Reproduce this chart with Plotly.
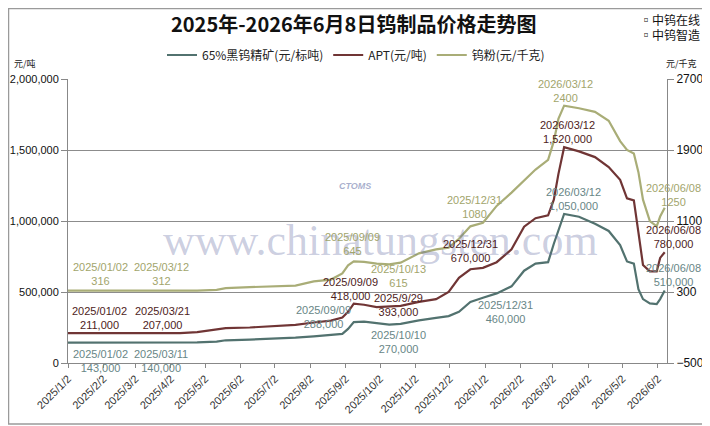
import plotly.graph_objects as go

# price history
dates = [
    "2025-01-02", "2025-02-10", "2025-02-20", "2025-03-12", "2025-03-21",
    "2025-04-10", "2025-04-25", "2025-05-12", "2025-05-20", "2025-06-10",
    "2025-07-01", "2025-07-20", "2025-08-05", "2025-08-20", "2025-08-30",
    "2025-09-04", "2025-09-09", "2025-09-18", "2025-09-29", "2025-10-10",
    "2025-10-20", "2025-11-05", "2025-11-20", "2025-12-01", "2025-12-10",
    "2025-12-20", "2025-12-31", "2026-01-12", "2026-01-25", "2026-02-05",
    "2026-02-15", "2026-02-26", "2026-03-03", "2026-03-07", "2026-03-12",
    "2026-03-25", "2026-04-08", "2026-04-20", "2026-04-30", "2026-05-06",
    "2026-05-12", "2026-05-16", "2026-05-20", "2026-05-26", "2026-06-01",
    "2026-06-04", "2026-06-08",
]
concentrate = [  # 65%黑钨精矿, 元/标吨
    143000, 143000, 140000, 140000, 140000, 142000, 145000, 150000, 160000, 165000,
    170000, 178000, 188000, 198000, 205000, 240000, 288000, 292000, 282000, 270000,
    275000, 300000, 318000, 330000, 360000, 430000, 460000, 490000, 540000, 650000,
    700000, 710000, 840000, 930000, 1050000, 1030000, 980000, 930000, 830000, 715000,
    700000, 520000, 450000, 420000, 415000, 450000, 510000,
]
apt = [  # APT, 元/吨
    211000, 211000, 211000, 207000, 207000, 210000, 218000, 235000, 246000, 250000,
    258000, 268000, 285000, 298000, 320000, 360000, 418000, 410000, 393000, 395000,
    402000, 430000, 450000, 500000, 600000, 660000, 670000, 710000, 800000, 960000,
    1020000, 1040000, 1150000, 1330000, 1520000, 1490000, 1450000, 1380000, 1290000, 1160000,
    1145000, 920000, 690000, 645000, 645000, 740000, 780000,
]
powder = [  # 钨粉, 元/千克
    316, 316, 314, 312, 312, 314, 316, 325, 343, 355,
    362, 372, 420, 440, 510, 600, 645, 640, 620, 612,
    630, 735, 780, 800, 900, 1040, 1080, 1270, 1420, 1560,
    1680, 1790, 2000, 2250, 2400, 2370, 2330, 2230, 2000, 1900,
    1860, 1650, 1340, 1100, 1040, 1150, 1250,
]

month_ticks = ["2025-%02d-02" % m for m in range(1, 13)] + ["2026-%02d-02" % m for m in range(1, 7)]
month_text = ["2025/%d/2" % m for m in range(1, 13)] + ["2026/%d/2" % m for m in range(1, 7)]

left_ticks = [0, 500000, 1000000, 1500000, 2000000]
right_ticks = [-500, 300, 1100, 1900, 2700]

c_col, a_col, p_col = "#52726f", "#703535", "#a9ad77"
c_txt, a_txt, p_txt = "#688686", "#4e1c1c", "#a2a56c"

# point labels: text, centre pixel (x, y) in the 710x426 picture, colour
labels = [
    ("2025/01/02<br>316", 100, 274, p_txt),
    ("2025/03/12<br>312", 161, 274, p_txt),
    ("2025/09/09<br>645", 352, 244, p_txt),
    ("2025/10/13<br>615", 398, 276, p_txt),
    ("2025/12/31<br>1080", 475, 207, p_txt),
    ("2026/03/12<br>2400", 565, 91, p_txt),
    ("2026/06/08<br>1250", 673, 195, p_txt),
    ("2025/01/02<br>211,000", 99, 318, a_txt),
    ("2025/03/21<br>207,000", 162, 318, a_txt),
    ("2025/09/09<br>418,000", 350, 289, a_txt),
    ("2025/9/29<br>393,000", 398, 305, a_txt),
    ("2025/12/31<br>670,000", 470, 251, a_txt),
    ("2026/03/12<br>1,520,000", 567, 132, a_txt),
    ("2026/06/08<br>780,000", 673, 237, a_txt),
    ("2025/01/02<br>143,000", 100, 361, c_txt),
    ("2025/03/11<br>140,000", 161, 361, c_txt),
    ("2025/09/09<br>288,000", 323, 317, c_txt),
    ("2025/10/10<br>270,000", 398, 342, c_txt),
    ("2025/12/31<br>460,000", 505, 312, c_txt),
    ("2026/03/12<br>1,050,000", 573, 199, c_txt),
    ("2026/06/08<br>510,000", 673, 275, c_txt),
]

# the page puts the figure 8px in from the top-left corner, so build it 8px smaller
OFF = 8
W, H = 710 - OFF, 426 - OFF
L, R, T, B = 68 - OFF, 43, 79 - OFF, 63
pw, ph = W - L - R, H - T - B


def px(x, y):
    # reference picture pixel -> paper coordinates
    return (x - OFF - L) / pw, (H - B - (y - OFF)) / ph


font = "Liberation Sans, Noto Sans CJK SC, sans-serif"
cjk = "Noto Sans CJK SC, sans-serif"

fig = go.Figure()
fig.add_trace(go.Scatter(x=dates, y=concentrate, name="65%黑钨精矿(元/标吨)",
                         mode="lines", line=dict(color=c_col, width=2.2)))
fig.add_trace(go.Scatter(x=dates, y=apt, name="APT(元/吨)",
                         mode="lines", line=dict(color=a_col, width=2.2)))
fig.add_trace(go.Scatter(x=dates, y=powder, name="钨粉(元/千克)", yaxis="y2",
                         mode="lines", line=dict(color=p_col, width=2.2)))


def note(text, x, y, size, color, family=font):
    ax, ay = px(x, y)
    return dict(text=text, x=ax, y=ay, xref="paper", yref="paper", showarrow=False,
                xanchor="center", yanchor="middle", align="center",
                font=dict(family=family, size=size, color=color))


# watermark first so it sits under the labels
anns = [note("www.chinatungsten.com", 380, 240, 44, "rgba(95,105,160,0.33)",
             "Liberation Serif, serif"),
        note("<i><b>CTOMS</b></i>", 355, 186, 9, "rgba(110,120,170,0.6)")]
for text, x, y, col in labels:
    anns.append(note(text, x, y, 11, col))

anns.append(note("<b>2025年-2026年6月8日钨制品价格走势图</b>", 353, 24, 20, "#111", cjk))
anns.append(note("▫中钨在线", 670, 19, 12, "#111", cjk))
anns.append(note("▫中钨智造", 670, 35, 12, "#111", cjk))
anns.append(note("元/吨", 25, 64, 9, "#222", cjk))
anns.append(note("元/千克", 682, 64, 9, "#222", cjk))

bx0, by0 = px(OFF + 0.5, 424)
bx1, by1 = px(708, OFF + 0.5)
legx, legy = px(356, 55)

fig.update_layout(
    width=W, height=H,
    margin=dict(l=L, r=R, t=T, b=B, autoexpand=False),
    paper_bgcolor="white", plot_bgcolor="white",
    font=dict(family=font, size=12, color="#222"),
    showlegend=True,
    legend=dict(orientation="h", x=legx, y=legy, xanchor="center", yanchor="middle",
                font=dict(family=cjk, size=12, color="#222"), itemwidth=30,
                bgcolor="rgba(0,0,0,0)"),
    annotations=anns,
    shapes=[dict(type="rect", xref="paper", yref="paper", x0=bx0, y0=by0, x1=bx1, y1=by1,
                 line=dict(color="#9a9a9a", width=1.5))],
    xaxis=dict(type="date", range=["2025-01-02", "2026-06-10"], tickvals=month_ticks,
               ticktext=month_text, tickangle=-45, ticks="outside", ticklen=4,
               tickcolor="#888", showgrid=False, showline=True, linecolor="#888",
               tickfont=dict(size=11, color="#333"), zeroline=False, automargin=False),
    yaxis=dict(range=[0, 2000000], tickvals=left_ticks, tickformat=",", ticks="outside",
               ticklen=6, tickcolor="#888", showline=True, linecolor="#888",
               gridcolor="#8c8c8c", gridwidth=1, zeroline=False, automargin=False,
               tickfont=dict(size=11, color="#111")),
    yaxis2=dict(range=[-500, 2700], tickvals=right_ticks, overlaying="y", side="right",
                ticks="outside", ticklen=6, tickcolor="#888", showline=True, linecolor="#888",
                showgrid=False, zeroline=False, automargin=False,
                tickfont=dict(size=12, color="#111")),
)

fig.write_html("out.html")
